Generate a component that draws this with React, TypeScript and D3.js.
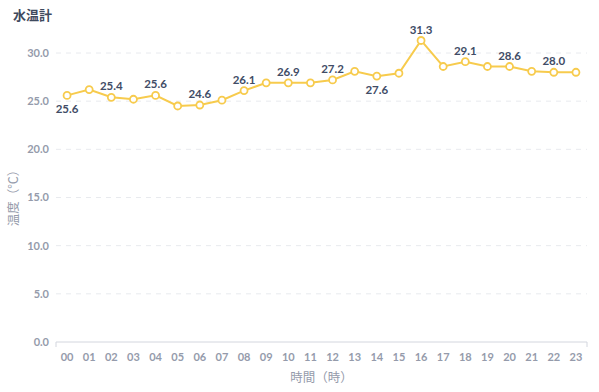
import React, { useRef, useEffect } from "react";
import * as d3 from "d3";

const width = 599;
const height = 392;

const hours = ["00","01","02","03","04","05","06","07","08","09","10","11","12","13","14","15","16","17","18","19","20","21","22","23"];
const temps = [25.6, 26.2, 25.4, 25.2, 25.6, 24.5, 24.6, 25.1, 26.1, 26.9, 26.9, 26.9, 27.2, 28.1, 27.6, 27.9, 31.3, 28.6, 29.1, 28.6, 28.6, 28.1, 28.0, 28.0];
const yTicks = [0, 5, 10, 15, 20, 25, 30];

const font = "Lato, 'Noto Sans CJK JP', sans-serif";

export default function App() {
  const ref = useRef<SVGSVGElement | null>(null);

  useEffect(() => {
    const svg = d3.select(ref.current);
    svg.selectAll("*").remove();

    const left = 56, right = 587, top = 53, bottom = 342;

    const x = d3.scaleBand().domain(hours).range([left, right]);
    const y = d3.scaleLinear().domain([0, 30]).range([bottom, top]);
    const cx = (h: string) => x(h)! + x.bandwidth() / 2;

    // grid
    svg.append("g")
      .selectAll("line")
      .data(yTicks.filter((t) => t > 0))
      .enter()
      .append("line")
      .attr("x1", left)
      .attr("x2", right)
      .attr("y1", (d) => y(d))
      .attr("y2", (d) => y(d))
      .attr("stroke", "#e8eaee")
      .attr("stroke-dasharray", "5,5");

    // y labels
    svg.append("g")
      .selectAll("text")
      .data(yTicks)
      .enter()
      .append("text")
      .attr("x", 49)
      .attr("y", (d) => y(d))
      .attr("dy", "0.35em")
      .attr("text-anchor", "end")
      .attr("font-family", font)
      .attr("font-size", 11)
      .attr("font-weight", "bold")
      .attr("fill", "#959bab")
      .text((d) => d.toFixed(1));

    // x axis line
    svg.append("path")
      .attr("d", `M${left},${bottom + 5}V${bottom}H${right}V${bottom + 5}`)
      .attr("fill", "none")
      .attr("stroke", "#d3d6de")
      .attr("stroke-width", 1);

    svg.append("g")
      .selectAll("text")
      .data(hours)
      .enter()
      .append("text")
      .attr("x", (d) => cx(d))
      .attr("y", 357)
      .attr("dy", "0.35em")
      .attr("text-anchor", "middle")
      .attr("font-family", font)
      .attr("font-size", 11)
      .attr("font-weight", "bold")
      .attr("fill", "#959bab")
      .text((d) => d);

    // titles
    svg.append("text")
      .attr("x", 13)
      .attr("y", 20)
      .attr("font-family", font)
      .attr("font-size", 13)
      .attr("font-weight", "bold")
      .attr("fill", "#3f4a5e")
      .text("水温計");

    svg.append("text")
      .attr("transform", `translate(14,195) rotate(-90)`)
      .attr("text-anchor", "middle")
      .attr("dy", "0.35em")
      .attr("font-family", font)
      .attr("font-size", 12.5)
      .attr("fill", "#959bab")
      .text("温度（℃）");

    svg.append("text")
      .attr("x", (left + right) / 2)
      .attr("y", 378)
      .attr("dy", "0.35em")
      .attr("text-anchor", "middle")
      .attr("font-family", font)
      .attr("font-size", 12.5)
      .attr("fill", "#959bab")
      .text("時間（時）");

    const pts = hours.map((h, i) => ({ h, v: temps[i], i }));

    const line = d3.line<{ h: string; v: number }>()
      .x((d) => cx(d.h))
      .y((d) => y(d.v));

    svg.append("path")
      .datum(pts)
      .attr("d", line)
      .attr("fill", "none")
      .attr("stroke", "#f7cb4d")
      .attr("stroke-width", 2);

    svg.append("g")
      .selectAll("circle")
      .data(pts)
      .enter()
      .append("circle")
      .attr("cx", (d) => cx(d.h))
      .attr("cy", (d) => y(d.v))
      .attr("r", 3.5)
      .attr("fill", "#fff")
      .attr("stroke", "#f7cb4d")
      .attr("stroke-width", 1.8);

    // labels on even hours, below when it is a local low
    const isLow = (i: number) => {
      const prev = i > 0 ? temps[i - 1] : Infinity;
      const next = i < temps.length - 1 ? temps[i + 1] : Infinity;
      return temps[i] < prev && temps[i] < next;
    };

    svg.append("g")
      .selectAll("text")
      .data(pts.filter((d) => d.i % 2 === 0))
      .enter()
      .append("text")
      .attr("x", (d) => cx(d.h))
      .attr("y", (d) => y(d.v) + (isLow(d.i) ? 14 : -11))
      .attr("dy", "0.35em")
      .attr("text-anchor", "middle")
      .attr("font-family", font)
      .attr("font-size", 11.5)
      .attr("font-weight", "bold")
      .attr("fill", "#414c66")
      .text((d) => d.v.toFixed(1));
  }, []);

  return (
    <div style={{ position: "absolute", left: 0, top: 0 }}>
      <svg ref={ref} width={width} height={height} style={{ display: "block" }} />
    </div>
  );
}
